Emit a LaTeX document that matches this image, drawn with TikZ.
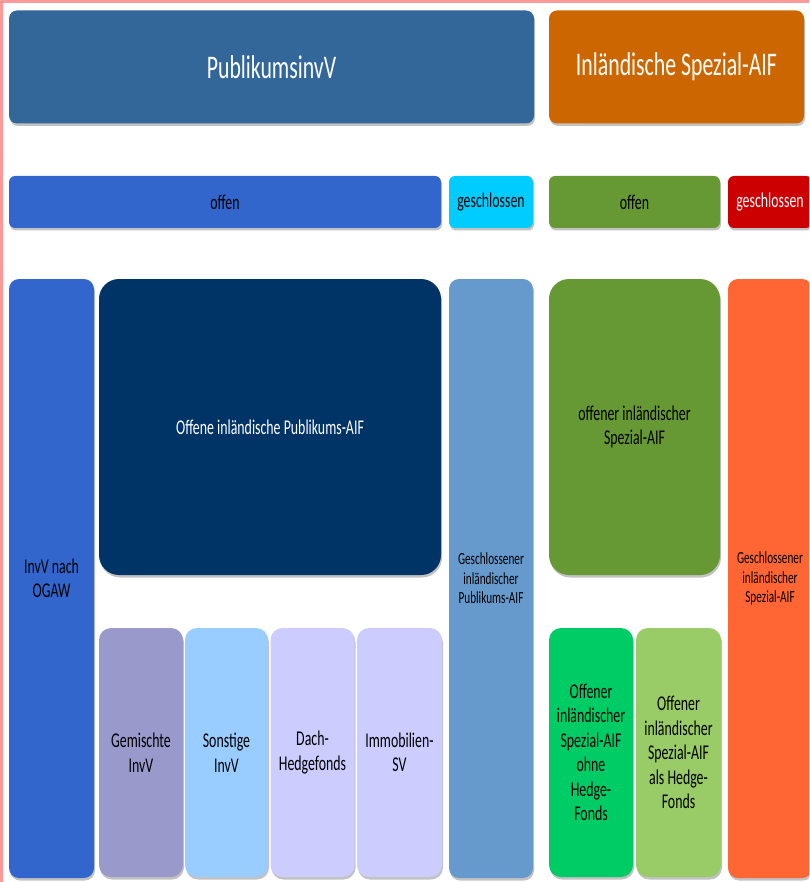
\documentclass[tikz,border=0pt]{standalone}
\usepackage{fontspec}
\setmainfont{Carlito}[FakeStretch=0.66]
\usetikzlibrary{shadows}

\definecolor{cTitleA}{HTML}{336699}
\definecolor{cTitleB}{HTML}{CC6600}
\definecolor{cBlue}{HTML}{3366CC}
\definecolor{cCyan}{HTML}{00CCFF}
\definecolor{cOlive}{HTML}{669933}
\definecolor{cRed}{HTML}{CC0000}
\definecolor{cNavy}{HTML}{003366}
\definecolor{cSteel}{HTML}{6699CC}
\definecolor{cOrange}{HTML}{FF6633}
\definecolor{cLilac}{HTML}{9999CC}
\definecolor{cSky}{HTML}{99CCFF}
\definecolor{cLavender}{HTML}{CCCCFF}
\definecolor{cGreen}{HTML}{00CC66}
\definecolor{cLime}{HTML}{99CC66}
\definecolor{cFrame}{HTML}{FF9999}

\tikzset{
  blk/.style={inner sep=0pt, align=center, text=black,
    drop shadow={shadow xshift=1pt, shadow yshift=-2.5pt, fill=black!60, opacity=0.4}},
  sz/.style 2 args={minimum width=#1, minimum height=#2},
  rad/.style={rounded corners=#1},
  titlefont/.style={font=\fontsize{33}{38}\selectfont},
  bodyfont/.style={font=\fontsize{21}{24.5}\selectfont},
  smallfont/.style={font=\fontsize{17}{19.5}\selectfont},
}

\begin{document}
\begin{tikzpicture}[x=1pt,y=-1pt]
  \useasboundingbox (0,0) rectangle (809,882);
  \clip (0,0) rectangle (809,882);

  % frame along the top and left edges
  \draw[cFrame, line width=2.6pt] (1.3,900) |- (900,1.3);

  % header row
  \node[blk, rad=8pt, sz={525pt}{113pt}, fill=cTitleA, text=white, titlefont] (pub) at (271.5,67) {PublikumsinvV};
  \node[blk, rad=8pt, sz={255pt}{113pt}, fill=cTitleB, text=white, titlefont] (spz) at (676.5,67) {Inländische Spezial-AIF};

  % open / closed row
  \node[blk, rad=6pt, sz={432pt}{52pt}, fill=cBlue, bodyfont] (po) at (225,202) {offen};
  \node[blk, rad=6pt, sz={84pt}{52pt}, fill=cCyan, bodyfont] (pg) at (491,202) {geschlossen};
  \node[blk, rad=6pt, sz={171pt}{52pt}, fill=cOlive, bodyfont] (so) at (634.5,202) {offen};
  \node[blk, rad=6pt, sz={84pt}{52pt}, fill=cRed, text=white, bodyfont] (sg) at (770,202) {geschlossen};

  % tall columns
  \node[blk, rad=10pt, sz={85pt}{599pt}, fill=cBlue, bodyfont] (ogaw) at (51.5,578.5) {InvV nach\\OGAW};
  \node[blk, rad=10pt, sz={84pt}{599pt}, fill=cSteel, smallfont] (gpa) at (491,578.5) {Geschlossener\\inländischer\\Publikums-AIF};
  \node[blk, rad=10pt, sz={84pt}{599pt}, fill=cOrange, smallfont] (gsa) at (770,578.5) {Geschlossener\\inländischer\\Spezial-AIF};

  % large open fund blocks
  \node[blk, rad=20pt, sz={342pt}{296pt}, fill=cNavy, text=white, bodyfont] (opa) at (270,427) {Offene inländische Publikums-AIF};
  \node[blk, rad=20pt, sz={171pt}{296pt}, fill=cOlive, bodyfont] (osa) at (634.5,427) {offener inländischer\\Spezial-AIF};

  % fund types
  \node[blk, rad=12pt, sz={84pt}{249pt}, fill=cLilac, bodyfont] (gem) at (141,752.5) {Gemischte\\InvV};
  \node[blk, rad=12pt, sz={83pt}{249pt}, fill=cSky, bodyfont] (son) at (226.5,752.5) {Sonstige\\InvV};
  \node[blk, rad=12pt, sz={84pt}{249pt}, fill=cLavender, bodyfont] (dach) at (312.5,752.5) {Dach-\\Hedgefonds};
  \node[blk, rad=12pt, sz={85pt}{249pt}, fill=cLavender, bodyfont] (immo) at (399.5,752.5) {Immobilien-\\SV};
  \node[blk, rad=12pt, sz={84pt}{249pt}, fill=cGreen, bodyfont] (ohne) at (591,752.5) {Offener\\inländischer\\Spezial-AIF\\ohne\\Hedge-\\Fonds};
  \node[blk, rad=12pt, sz={85pt}{249pt}, fill=cLime, bodyfont] (als) at (678.5,752.5) {Offener\\inländischer\\Spezial-AIF\\als Hedge-\\Fonds};
\end{tikzpicture}
\end{document}
